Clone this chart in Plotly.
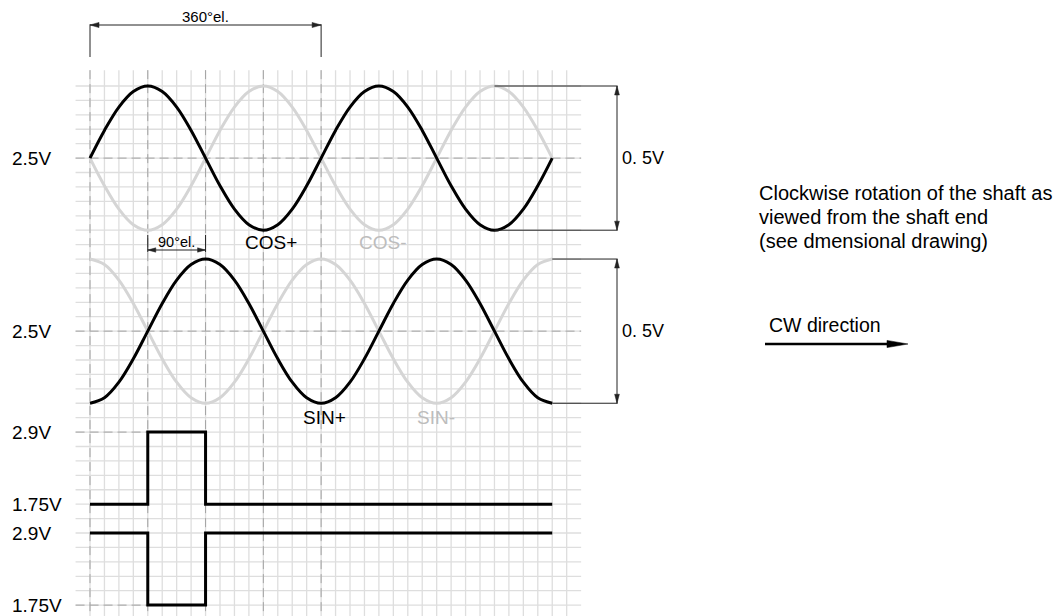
import plotly.graph_objects as go

# ---------------- data ----------------
angle_deg = [0, 22.5, 45, 67.5, 90, 112.5, 135, 157.5, 180, 202.5, 225, 247.5, 270, 292.5, 315, 337.5,
             360, 382.5, 405, 427.5, 450, 472.5, 495, 517.5, 540, 562.5, 585, 607.5, 630, 652.5, 675, 697.5, 720]

cos_plus_v = [2.5, 2.596, 2.677, 2.731, 2.75, 2.731, 2.677, 2.596, 2.5, 2.404, 2.323, 2.269, 2.25, 2.269, 2.323, 2.404,
              2.5, 2.596, 2.677, 2.731, 2.75, 2.731, 2.677, 2.596, 2.5, 2.404, 2.323, 2.269, 2.25, 2.269, 2.323, 2.404, 2.5]
cos_minus_v = [2.5, 2.404, 2.323, 2.269, 2.25, 2.269, 2.323, 2.404, 2.5, 2.596, 2.677, 2.731, 2.75, 2.731, 2.677, 2.596,
               2.5, 2.404, 2.323, 2.269, 2.25, 2.269, 2.323, 2.404, 2.5, 2.596, 2.677, 2.731, 2.75, 2.731, 2.677, 2.596, 2.5]
sin_plus_v = [2.25, 2.269, 2.323, 2.404, 2.5, 2.596, 2.677, 2.731, 2.75, 2.731, 2.677, 2.596, 2.5, 2.404, 2.323, 2.269,
              2.25, 2.269, 2.323, 2.404, 2.5, 2.596, 2.677, 2.731, 2.75, 2.731, 2.677, 2.596, 2.5, 2.404, 2.323, 2.269, 2.25]
sin_minus_v = [2.75, 2.731, 2.677, 2.596, 2.5, 2.404, 2.323, 2.269, 2.25, 2.269, 2.323, 2.404, 2.5, 2.596, 2.677, 2.731,
               2.75, 2.731, 2.677, 2.596, 2.5, 2.404, 2.323, 2.269, 2.25, 2.269, 2.323, 2.404, 2.5, 2.596, 2.677, 2.731, 2.75]

ref_angle_deg = [0, 90, 180, 720]
ref_plus_v = [1.75, 2.9, 1.75, 1.75]
ref_minus_v = [2.9, 1.75, 2.9, 2.9]

sine_mid_v = 2.5
sine_amp_v = 0.25
dig_high_v = 2.9
dig_low_v = 1.75

left_labels = ["2.5V", "2.5V", "2.9V", "1.75V", "2.9V", "1.75V"]
span_label = "0. 5V"
period_label = "360°el."
quarter_label = "90°el."
note_lines = ["Clockwise rotation of the shaft as", "viewed from the shaft end", "(see dmensional drawing)"]
cw_label = "CW direction"

# ---------------- geometry / scales ----------------
W, H = 1060, 616
X0PX, PXDEG = 90.0, 0.642      # pixel of 0 deg, pixels per degree
Y0PX, PXROW = 86.0, 14.42      # pixel of grid row 0, pixels per grid row

def xpx(d):
    return X0PX + d * PXDEG

def ypx(r):
    return Y0PX + r * PXROW

def deg_of_px(p):
    return (p - X0PX) / PXDEG

def row_of_px(p):
    return (p - Y0PX) / PXROW

ROWS_PER_SINE_V = 5 / sine_amp_v
ROWS_PER_DIG_V = 5 / (dig_high_v - dig_low_v)

def cos_row(v): return 5 - (v - sine_mid_v) * ROWS_PER_SINE_V
def sin_row(v): return 17 - (v - sine_mid_v) * ROWS_PER_SINE_V
def dig1_row(v): return 24 + (dig_high_v - v) * ROWS_PER_DIG_V
def dig2_row(v): return 31 + (dig_high_v - v) * ROWS_PER_DIG_V

FONT = "Liberation Sans, Arial, Helvetica, sans-serif"
BLACK = "#000000"
GRAYLINE = "#d5d5d5"
GRAYTEXT = "#bdbdbd"
GRID = "#dedede"
DASH = "#a3a3a3"
DIM = "#222222"

fig = go.Figure()

shapes = []
# minor grid: vertical
step = 22.5
nv = 34
for i in range(nv):
    d = i * step
    shapes.append(dict(type="line", xref="x", yref="y", x0=d, x1=d, y0=-1.1, y1=40,
                       line=dict(color=GRID, width=1.3), layer="below"))
# minor grid: horizontal
for r in range(37):
    shapes.append(dict(type="line", xref="x", yref="y", x0=-22.5, x1=765, y0=r, y1=r,
                       line=dict(color=GRID, width=1.3), layer="below"))
# dashed reference lines
for d in [0, 90, 180, 270, 360]:
    shapes.append(dict(type="line", xref="x", yref="y", x0=d, x1=d, y0=-1.1, y1=40,
                       line=dict(color=DASH, width=1, dash="9px,5px"), layer="below"))
for r in [cos_row(sine_mid_v), sin_row(sine_mid_v)]:
    shapes.append(dict(type="line", xref="x", yref="y", x0=-22.5, x1=765, y0=r, y1=r,
                       line=dict(color=DASH, width=1, dash="9px,5px"), layer="below"))
for r in [dig1_row(dig_high_v), dig2_row(dig_low_v)]:
    shapes.append(dict(type="line", xref="x", yref="y", x0=-22.5, x1=90, y0=r, y1=r,
                       line=dict(color=DASH, width=1, dash="9px,5px"), layer="below"))

def dline(x0, y0, x1, y1, w=1, color=DIM):
    shapes.append(dict(type="line", xref="x", yref="y", x0=x0, x1=x1, y0=y0, y1=y1,
                       line=dict(color=color, width=w), layer="above"))

def head(tip_deg, tip_row, dx, dy, length=9, half=2.6, color=DIM):
    tx, ty = xpx(tip_deg), ypx(tip_row)
    bx, by = tx - dx * length, ty - dy * length
    px, py = -dy * half, dx * half
    pts = [(tx, ty), (bx + px, by + py), (bx - px, by - py)]
    path = "M " + " L ".join(f"{x / W:.5f},{1 - y / H:.5f}" for x, y in pts) + " Z"
    shapes.append(dict(type="path", xref="paper", yref="paper", path=path,
                       fillcolor=color, line=dict(color=color, width=0.5), layer="above"))

# 360 deg dimension
r_top = row_of_px(25)
r_tick_end = row_of_px(57)
dline(0, r_top - 0.05, 0, r_tick_end)
dline(360, r_top - 0.05, 360, r_tick_end)
dline(0, r_top, 360, r_top)
head(0, r_top, -1, 0)
head(360, r_top, 1, 0)

# 90 deg dimension
r_q0, r_q1, r_ql = row_of_px(235), row_of_px(252), row_of_px(250)
dline(90, r_q0, 90, r_q1)
dline(180, r_q0, 180, r_q1)
dline(90, r_ql, 180, r_ql)
head(90, r_ql, -1, 0, length=8, half=2.2)
head(180, r_ql, 1, 0, length=8, half=2.2)

# right side 0.5V spans
x_dim = deg_of_px(617)
for (start_top, start_bot, rtop, rbot) in [(630, 630, cos_row(sine_mid_v + sine_amp_v), cos_row(sine_mid_v - sine_amp_v)),
                                            (720, 720, sin_row(sine_mid_v + sine_amp_v), sin_row(sine_mid_v - sine_amp_v))]:
    dline(start_top, rtop, x_dim + 1, rtop)
    dline(start_bot, rbot, x_dim + 1, rbot)
    dline(x_dim, rtop, x_dim, rbot)
    head(x_dim, rtop, 0, -1, length=9, half=2.4)
    head(x_dim, rbot, 0, 1, length=9, half=2.4)

# CW arrow (paper)
cw_y = 344
shapes.append(dict(type="line", xref="paper", yref="paper", x0=765 / W, x1=893 / W, y0=1 - cw_y / H, y1=1 - cw_y / H,
                   line=dict(color=BLACK, width=2.6), layer="above"))
cw_pts = [(908, cw_y), (887, cw_y - 3.6), (887, cw_y + 3.6)]
shapes.append(dict(type="path", xref="paper", yref="paper",
                   path="M " + " L ".join(f"{x / W:.5f},{1 - y / H:.5f}" for x, y in cw_pts) + " Z",
                   fillcolor=BLACK, line=dict(color=BLACK, width=0.5), layer="above"))

# ---------------- traces ----------------
def add_trace(x, y, color, shape="spline"):
    fig.add_trace(go.Scatter(x=x, y=y, mode="lines", hoverinfo="skip", showlegend=False,
                             line=dict(color=color, width=3, shape=shape, smoothing=1.0 if shape == "spline" else None)))

add_trace(angle_deg, [cos_row(v) for v in cos_minus_v], GRAYLINE)
add_trace(angle_deg, [sin_row(v) for v in sin_minus_v], GRAYLINE)
add_trace(angle_deg, [cos_row(v) for v in cos_plus_v], BLACK)
add_trace(angle_deg, [sin_row(v) for v in sin_plus_v], BLACK)
add_trace(ref_angle_deg, [dig1_row(v) for v in ref_plus_v], BLACK, shape="hv")
add_trace(ref_angle_deg, [dig2_row(v) for v in ref_minus_v], BLACK, shape="hv")

# ---------------- annotations ----------------
ann = []
def text(x, y, s, size=19, color=BLACK, xanchor="center", xref="x", yref="y", yanchor="middle"):
    ann.append(dict(x=x, y=y, xref=xref, yref=yref, text=s, showarrow=False, xanchor=xanchor, yanchor=yanchor,
                    font=dict(family=FONT, size=size, color=color)))

left_rows = [cos_row(sine_mid_v), sin_row(sine_mid_v), dig1_row(dig_high_v), dig1_row(dig_low_v),
             dig2_row(dig_high_v), dig2_row(dig_low_v)]
for lab, r in zip(left_labels, left_rows):
    text(10 / W, r, lab, size=19, xanchor="left", xref="paper")

text(180, row_of_px(16), period_label, size=15)
text(135, row_of_px(242), quarter_label, size=14.5)
text(282, row_of_px(242), "COS+")
text(456, row_of_px(242), "COS-", color=GRAYTEXT)
text(366, row_of_px(417), "SIN+")
text(539, row_of_px(417), "SIN-", color=GRAYTEXT)
text(deg_of_px(620), cos_row(sine_mid_v), span_label, size=18, xanchor="left")
text(deg_of_px(620), sin_row(sine_mid_v), span_label, size=18, xanchor="left")

for i, line in enumerate(note_lines):
    text(757 / W, 1 - (193 + 24 * i) / H, line, size=20, xanchor="left", xref="paper", yref="paper")
text(767 / W, 1 - 325 / H, cw_label, size=19.5, xanchor="left", xref="paper", yref="paper")

fig.update_layout(
    width=W, height=H,
    margin=dict(l=0, r=0, t=0, b=0),
    paper_bgcolor="white", plot_bgcolor="white",
    xaxis=dict(range=[deg_of_px(0), deg_of_px(W)], showgrid=False, zeroline=False, showticklabels=False,
               showline=False, ticks="", fixedrange=True),
    yaxis=dict(range=[row_of_px(H), row_of_px(0)], showgrid=False, zeroline=False, showticklabels=False,
               showline=False, ticks="", fixedrange=True),
    shapes=shapes, annotations=ann,
    font=dict(family=FONT),
)

fig.write_html("out.html", config={"displayModeBar": False},
               post_script="document.body.style.margin='0';document.body.style.overflow='hidden';")
